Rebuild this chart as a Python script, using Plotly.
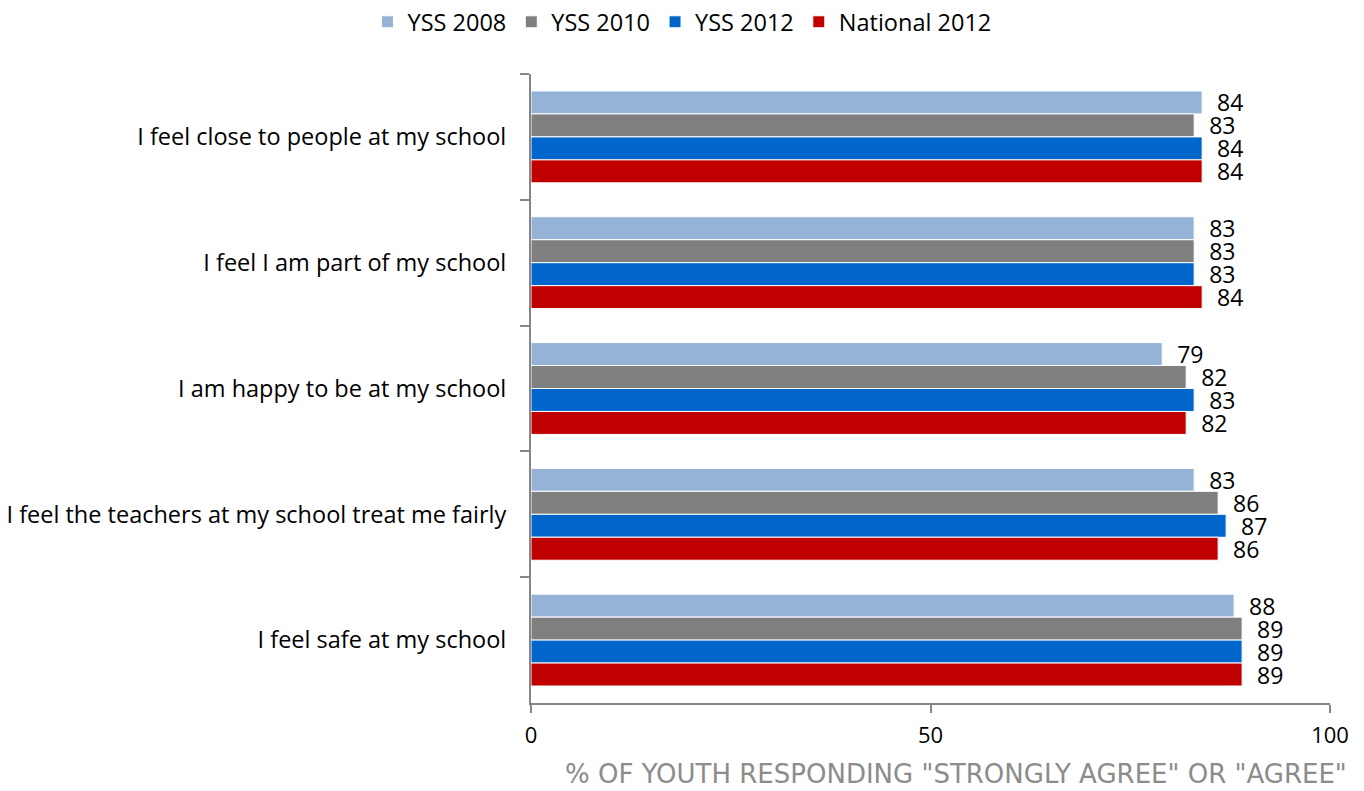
import plotly.graph_objects as go

categories = [
    "I feel close to people at my school",
    "I feel I am part of my school",
    "I am happy to be at my school",
    "I feel the teachers at my school treat me fairly",
    "I feel safe at my school",
]
series_names = ["YSS 2008", "YSS 2010", "YSS 2012", "National 2012"]
yss2008 = [84, 83, 79, 83, 88]
yss2010 = [83, 83, 82, 86, 89]
yss2012 = [84, 83, 83, 87, 89]
national2012 = [84, 84, 82, 86, 89]
colors = ["#95B3D7", "#7F7F7F", "#0066CC", "#C00000"]
x_ticks = [0, 50, 100]

FONT = "Open Sans"
fig = go.Figure()
for name, vals, col in zip(series_names, [yss2008, yss2010, yss2012, national2012], colors):
    fig.add_trace(go.Bar(
        y=categories, x=vals, name=name, orientation="h",
        marker=dict(color=col, line=dict(color="white", width=1)),
        text=[str(v) for v in vals], texttemplate="  %{text}",
        textposition="outside", cliponaxis=False, constraintext="none",
        textfont=dict(family=FONT, size=23, color="black"),
    ))

fig.update_layout(
    width=1364, height=791,
    barmode="group", bargap=0.27, bargroupgap=0,
    paper_bgcolor="white", plot_bgcolor="white",
    margin=dict(l=531, r=34, t=74, b=88, autoexpand=False),
    font=dict(family=FONT, size=22, color="black"),
    legend=dict(orientation="h", xref="container", yref="container",
                x=0.5, xanchor="center", y=1.0, yanchor="top",
                font=dict(family=FONT, size=23.5), traceorder="normal"),
    yaxis=dict(type="category", autorange="reversed", showline=True,
               automargin=False,
               linecolor="#868686", linewidth=2, ticks="outside",
               tickson="boundaries", ticklen=9, tickcolor="#868686", tickwidth=2,
               ticklabelstandoff=18, showgrid=False,
               tickfont=dict(family=FONT, size=23.5, color="black")),
    xaxis=dict(range=[0, 100], tickvals=x_ticks, ticktext=[str(t) for t in x_ticks],
               automargin=False,
               showline=True, linecolor="#868686", linewidth=2, ticks="outside",
               ticklen=8, tickcolor="#868686", tickwidth=2, showgrid=False,
               zeroline=False, ticklabelstandoff=4,
               tickfont=dict(family=FONT, size=22, color="black")),
    annotations=[dict(text='% OF YOUTH RESPONDING "STRONGLY AGREE" OR "AGREE"',
                      xref="paper", yref="paper", x=1.0, xanchor="right",
                      y=0, yshift=-71, yanchor="middle", showarrow=False,
                      xshift=19,
                      font=dict(family="DejaVu Sans", size=26, color="#8C8C8C"))],
)
fig.write_html("out.html")
